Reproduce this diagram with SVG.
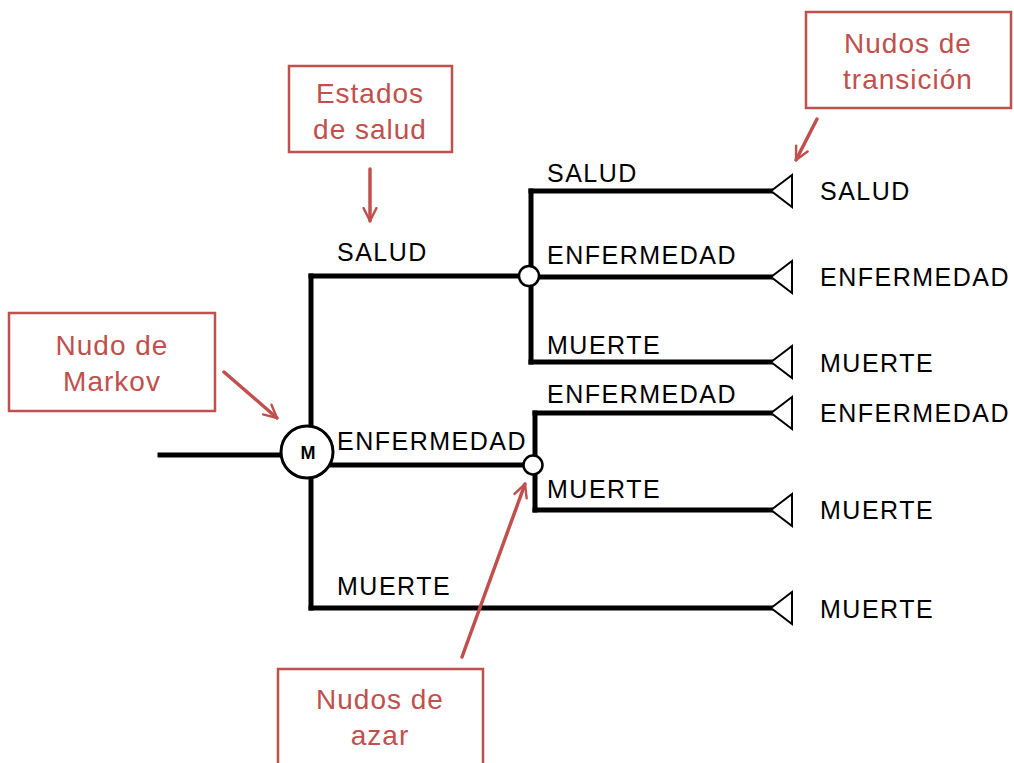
<svg xmlns="http://www.w3.org/2000/svg" width="1014" height="763" viewBox="0 0 1014 763">
<defs>
<style>
.ln{stroke:#000;stroke-width:5;fill:none;stroke-linecap:square}
.tri{stroke:#000;stroke-width:2;fill:#fff;stroke-linejoin:miter}
.lbl{font-family:"Liberation Sans",Arial,sans-serif;font-size:25px;letter-spacing:1.5px;fill:#000}
.box{stroke:#c0504d;stroke-width:2.5;fill:#fff}
.rt{font-family:"Liberation Sans",Arial,sans-serif;font-size:28px;letter-spacing:1px;fill:#c0504d;text-anchor:middle}
.ar{stroke:#c0504d;stroke-width:3.5;fill:none;stroke-linecap:round;stroke-linejoin:round}
</style>
<marker id="ah" viewBox="0 0 10 10" refX="9" refY="5" markerWidth="4.6" markerHeight="4.6" orient="auto" markerUnits="strokeWidth">
<path d="M1,1 L9,5 L1,9" fill="none" stroke="#c0504d" stroke-width="1.5" stroke-linecap="round" stroke-linejoin="round"/>
</marker>
</defs>
<rect width="1014" height="763" fill="#fff"/>
<g id="connectors">
<line class="ln" x1="160" y1="455" x2="280" y2="455"/>
<line class="ln" x1="311" y1="276" x2="311" y2="608"/>
<line class="ln" x1="311" y1="276" x2="529" y2="276"/>
<line class="ln" x1="332" y1="465" x2="533" y2="465"/>
<line class="ln" x1="311" y1="608" x2="772" y2="608"/>
<line class="ln" x1="531" y1="191" x2="531" y2="362"/>
<line class="ln" x1="531" y1="191" x2="772" y2="191"/>
<line class="ln" x1="531" y1="277" x2="772" y2="277"/>
<line class="ln" x1="531" y1="362" x2="772" y2="362"/>
<line class="ln" x1="535" y1="413" x2="535" y2="510"/>
<line class="ln" x1="535" y1="413" x2="772" y2="413"/>
<line class="ln" x1="535" y1="510" x2="772" y2="510"/>
</g>
<g id="markov-node">
<circle cx="307" cy="452" r="26" fill="#fff" stroke="#000" stroke-width="3"/>
<text x="308" y="459" font-family="Liberation Sans,Arial,sans-serif" font-size="18" font-weight="bold" text-anchor="middle">M</text>
</g>
<g id="chance-node-1"><circle cx="529" cy="276" r="10" fill="#fff" stroke="#000" stroke-width="2.5"/></g>
<g id="chance-node-2"><circle cx="533" cy="465" r="9.5" fill="#fff" stroke="#000" stroke-width="2.5"/></g>
<g id="terminal-nodes">
<polygon class="tri" points="771,191 792,175 792,207"/>
<polygon class="tri" points="771,277 792,261 792,293"/>
<polygon class="tri" points="771,362 792,346 792,378"/>
<polygon class="tri" points="771,413 792,397 792,429"/>
<polygon class="tri" points="771,510 792,494 792,526"/>
<polygon class="tri" points="771,608 792,592 792,624"/>
</g>
<g id="branch-labels">
<text class="lbl" x="337" y="261">SALUD</text>
<text class="lbl" x="337" y="450">ENFERMEDAD</text>
<text class="lbl" x="337" y="595">MUERTE</text>
<text class="lbl" x="547" y="182">SALUD</text>
<text class="lbl" x="547" y="264">ENFERMEDAD</text>
<text class="lbl" x="547" y="354">MUERTE</text>
<text class="lbl" x="547" y="403">ENFERMEDAD</text>
<text class="lbl" x="547" y="498">MUERTE</text>
<text class="lbl" x="820" y="200">SALUD</text>
<text class="lbl" x="820" y="286">ENFERMEDAD</text>
<text class="lbl" x="820" y="372">MUERTE</text>
<text class="lbl" x="820" y="422">ENFERMEDAD</text>
<text class="lbl" x="820" y="519">MUERTE</text>
<text class="lbl" x="820" y="618">MUERTE</text>
</g>
<g id="note-estados">
<rect class="box" x="289" y="66" width="163" height="86"/>
<text class="rt" x="370" y="103">Estados</text>
<text class="rt" x="370" y="139">de salud</text>
<line class="ar" x1="370" y1="169" x2="370" y2="221" marker-end="url(#ah)"/>
</g>
<g id="note-transicion">
<rect class="box" x="806" y="12" width="205" height="96"/>
<text class="rt" x="908" y="53">Nudos de</text>
<text class="rt" x="908" y="89">transición</text>
<line class="ar" x1="817" y1="119" x2="796" y2="160" marker-end="url(#ah)"/>
</g>
<g id="note-markov">
<rect class="box" x="9" y="313" width="206" height="98"/>
<text class="rt" x="112" y="355">Nudo de</text>
<text class="rt" x="112" y="391">Markov</text>
<line class="ar" x1="224" y1="372" x2="277" y2="418" marker-end="url(#ah)"/>
</g>
<g id="note-azar">
<rect class="box" x="278" y="669" width="205" height="110"/>
<text class="rt" x="380" y="709">Nudos de</text>
<text class="rt" x="380" y="745">azar</text>
<line class="ar" x1="462" y1="657" x2="525" y2="484" marker-end="url(#ah)"/>
</g>
</svg>
